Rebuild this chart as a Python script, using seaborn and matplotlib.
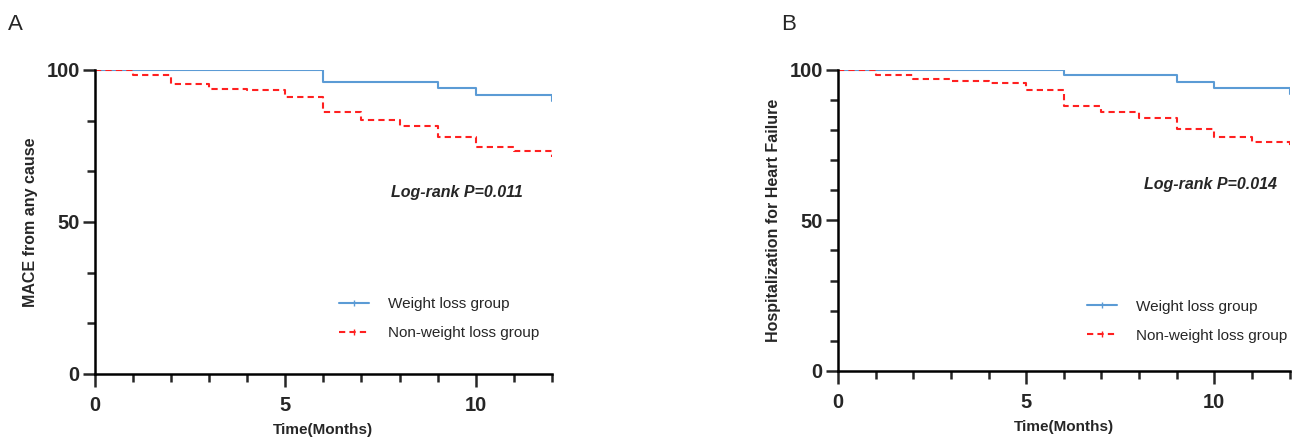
import numpy as np
import pandas as pd
import seaborn as sns
import matplotlib.pyplot as plt
from matplotlib.ticker import MultipleLocator
from matplotlib.lines import Line2D

sns.set_style("ticks")
plt.rcParams['font.family'] = ['Liberation Sans', 'DejaVu Sans']

# survival curves (percent event-free at each month)
months = [0, 1, 2, 3, 4, 5, 6, 7, 8, 9, 10, 11, 12]
a_weight_loss = [100, 100, 100, 100, 100, 100, 96.0, 96.0, 96.0, 94.0, 91.6, 91.6, 89.8]
a_non_weight_loss = [100, 98.3, 95.2, 93.8, 93.4, 91.0, 86.2, 83.5, 81.5, 78.0, 74.5, 73.2, 71.5]
b_weight_loss = [100, 100, 100, 100, 100, 100, 98.2, 98.2, 98.2, 96.0, 93.8, 93.8, 91.9]
b_non_weight_loss = [100, 98.2, 96.8, 96.2, 95.6, 93.4, 88.0, 86.0, 84.0, 80.3, 77.6, 75.9, 74.8]

group_names = ["Weight loss group", "Non-weight loss group"]
panel_letters = ["A", "B"]
y_labels = ["MACE from any cause", "Hospitalization for Heart Failure"]
p_texts = ["Log-rank P=0.011", "Log-rank P=0.014"]

blue = "#5b9bd5"
red = "#ff2020"

fig = plt.figure(figsize=(12.96, 4.42), dpi=100)
ax_a = fig.add_axes([0.0733, 0.154, 0.3525, 0.688])
ax_b = fig.add_axes([0.6466, 0.161, 0.3484, 0.681])

panels = [
    (ax_a, a_weight_loss, a_non_weight_loss, 100 / 6, (9.5, 59.5), 0.503, 0.182),
    (ax_b, b_weight_loss, b_non_weight_loss, 10, (9.9, 61.8), 0.52, 0.165),
]

for i, (ax, wl, nwl, minor_step, p_xy, leg_x, leg_y) in enumerate(panels):
    sns.lineplot(x=months, y=wl, ax=ax, color=blue, lw=1.5, drawstyle="steps-post")
    sns.lineplot(x=months, y=nwl, ax=ax, color=red, lw=1.5, linestyle=(0, (3, 2)),
                 drawstyle="steps-post")

    ax.set_xlim(0, 12)
    ax.set_ylim(0, 100)
    ax.set_xticks([0, 5, 10])
    ax.set_yticks([0, 50, 100])
    ax.xaxis.set_minor_locator(MultipleLocator(1))
    ax.yaxis.set_minor_locator(MultipleLocator(minor_step))
    ax.tick_params(which="major", length=9, width=1.8, labelsize=14.5)
    ax.tick_params(which="minor", length=5.5, width=1.8)
    ax.tick_params(axis="x", which="major", pad=7)
    ax.tick_params(axis="y", which="major", pad=2)
    for lab in ax.get_xticklabels() + ax.get_yticklabels():
        lab.set_fontweight("bold")

    sns.despine(ax=ax)
    for side in ["left", "bottom"]:
        ax.spines[side].set_linewidth(1.8)
        ax.spines[side].set_color("black")

    ax.set_xlabel("Time(Months)", fontsize=11, fontweight="bold", labelpad=6)
    ax.set_ylabel(y_labels[i], fontsize=11.5, fontweight="bold", labelpad=6)

    ax.text(p_xy[0], p_xy[1], p_texts[i], ha="center", va="center", fontsize=11.5,
            fontweight="bold", fontstyle="italic")

    handles = [
        Line2D([0], [0], color=blue, lw=1.5, marker="|", markersize=5),
        Line2D([0], [0], color=red, lw=1.5, linestyle=(0, (3, 2)), marker="|",
               markersize=5),
    ]
    ax.legend(handles, group_names, loc="center left", bbox_to_anchor=(leg_x, leg_y),
              frameon=False, fontsize=11, numpoints=1, handlelength=2.0,
              handletextpad=1.25, labelspacing=1.0)

fig.text(0.006, 0.945, panel_letters[0], fontsize=16, va="center")
fig.text(0.603, 0.945, panel_letters[1], fontsize=16, va="center")

fig.savefig("out.png", dpi=100)
